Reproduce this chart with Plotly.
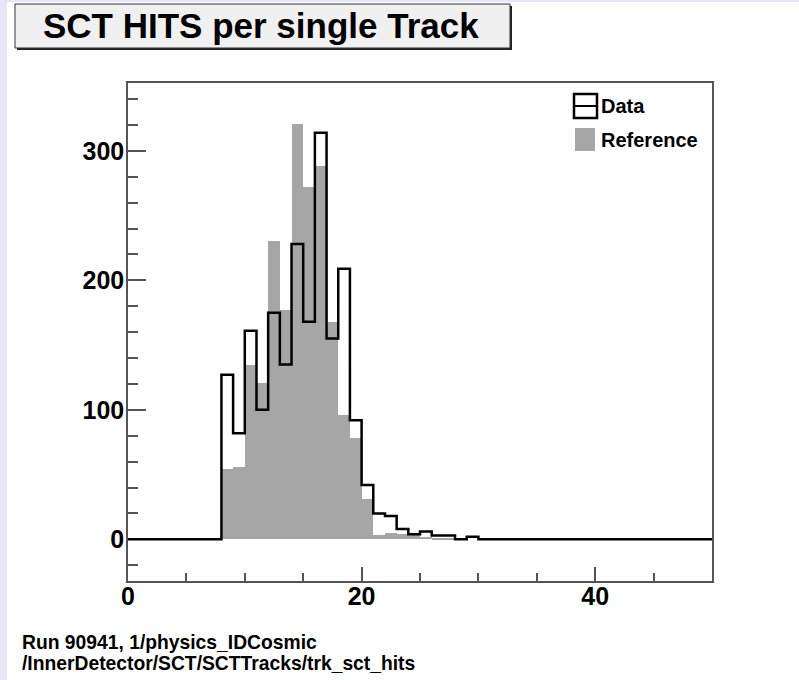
import plotly.graph_objects as go

# ---- data (bin width 1, bins start at integer lower edges) ----
bin_edges = list(range(0, 51))
data_counts = [0, 0, 0, 0, 0, 0, 0, 0,
               127, 82, 161, 100, 175, 135, 228, 168, 314, 155, 209, 92,
               42, 20, 18, 8, 4, 6, 3, 3, 0, 2] + [0] * 20
ref_counts = [0, 0, 0, 0, 0, 0, 0, 0,
              54, 56, 135, 121, 230, 177, 321, 272, 288, 168, 96, 78,
              31, 3, 5, 4, 3, 2, 1, 1, 0, 0] + [0] * 20

title_text = "SCT HITS per single Track"
legend_labels = ["Data", "Reference"]
footer_lines = ["Run 90941, 1/physics_IDCosmic",
                "/InnerDetector/SCT/SCTTracks/trk_sct_hits"]

centers = [e + 0.5 for e in bin_edges[:-1]]

W, H = 799, 680
L, R, T, B = 128, 87, 83, 99
PW, PH = W - L - R, H - T - B


def px(x):
    return (x - L) / PW


def py(y):
    return (H - B - y) / PH


fig = go.Figure()
fig.add_trace(go.Bar(x=centers, y=ref_counts, width=1,
                     marker=dict(color="#a6a6a6", line=dict(width=0)),
                     showlegend=False, hoverinfo="skip"))
fig.add_trace(go.Scatter(x=bin_edges, y=data_counts + [data_counts[-1]],
                         mode="lines", line=dict(color="black", width=2.5, shape="hv"),
                         showlegend=False, cliponaxis=True))

shapes = []
# lavender strips
shapes.append(dict(type="rect", xref="paper", yref="paper", x0=px(0), x1=px(7),
                   y0=py(H), y1=py(0), fillcolor="#e6e6f8", line=dict(width=0), layer="below"))
shapes.append(dict(type="rect", xref="paper", yref="paper", x0=px(0), x1=px(W),
                   y0=py(2), y1=py(0), fillcolor="#e6e6f8", line=dict(width=0), layer="below"))
# title box shadow + box
shapes.append(dict(type="rect", xref="paper", yref="paper", x0=px(17), x1=px(512),
                   y0=py(50), y1=py(6), fillcolor="#222222", line=dict(width=0)))
shapes.append(dict(type="rect", xref="paper", yref="paper", x0=px(15), x1=px(510),
                   y0=py(48), y1=py(4), fillcolor="#f0f0f0", line=dict(color="#333333", width=1)))
# legend symbols
shapes.append(dict(type="rect", xref="paper", yref="paper", x0=px(574), x1=px(597),
                   y0=py(118), y1=py(94), fillcolor="white", line=dict(color="black", width=2.5)))
shapes.append(dict(type="line", xref="paper", yref="paper", x0=px(574), x1=px(597),
                   y0=py(106), y1=py(106), line=dict(color="black", width=2)))
shapes.append(dict(type="rect", xref="paper", yref="paper", x0=px(575), x1=px(595),
                   y0=py(151), y1=py(128), fillcolor="#a6a6a6", line=dict(width=0)))

annotations = [
    dict(text=title_text, xref="paper", yref="paper", x=px(261), y=py(26),
         xanchor="center", yanchor="middle", showarrow=False,
         font=dict(family="Liberation Sans", size=35, color="black", weight="bold")),
    dict(text=legend_labels[0], xref="paper", yref="paper", x=px(599), y=py(106),
         xanchor="left", yanchor="middle", showarrow=False,
         font=dict(family="Liberation Sans", size=20, color="black", weight="bold")),
    dict(text=legend_labels[1], xref="paper", yref="paper", x=px(599), y=py(140),
         xanchor="left", yanchor="middle", showarrow=False,
         font=dict(family="Liberation Sans", size=20, color="black", weight="bold")),
    dict(text=footer_lines[0], xref="paper", yref="paper", x=px(20), y=py(642),
         xanchor="left", yanchor="middle", showarrow=False,
         font=dict(family="Liberation Sans", size=19.3, color="black", weight="bold")),
    dict(text=footer_lines[1], xref="paper", yref="paper", x=px(20), y=py(663),
         xanchor="left", yanchor="middle", showarrow=False,
         font=dict(family="Liberation Sans", size=19.3, color="black", weight="bold")),
]

axis_common = dict(showgrid=False, zeroline=False, showline=True, mirror=True,
                   linecolor="#555555", linewidth=1.5, ticks="inside",
                   tickcolor="#555555", tickwidth=1.5, layer="below traces",
                   tickfont=dict(family="Liberation Sans", size=25, color="black", weight="bold"))

fig.update_layout(
    width=W, height=H,
    margin=dict(l=L, r=R, t=T, b=B),
    paper_bgcolor="white", plot_bgcolor="white",
    bargap=0, showlegend=False,
    xaxis=dict(range=[0, 50], tick0=0, dtick=20, ticklen=14, ticklabelstandoff=-8,
               minor=dict(dtick=5, tick0=0, ticks="inside", ticklen=8,
                          tickcolor="#555555", tickwidth=1.5),
               **axis_common),
    yaxis=dict(range=[-32.2, 352.4], tick0=0, dtick=100, ticklen=18, ticklabelstandoff=-3,
               minor=dict(dtick=20, tick0=0, ticks="inside", ticklen=10,
                          tickcolor="#555555", tickwidth=1.5),
               **axis_common),
    shapes=shapes,
    annotations=annotations,
)

fig.write_html("out.html", config={"displayModeBar": False},
               post_script="document.body.style.margin='0';document.body.style.padding='0';")
